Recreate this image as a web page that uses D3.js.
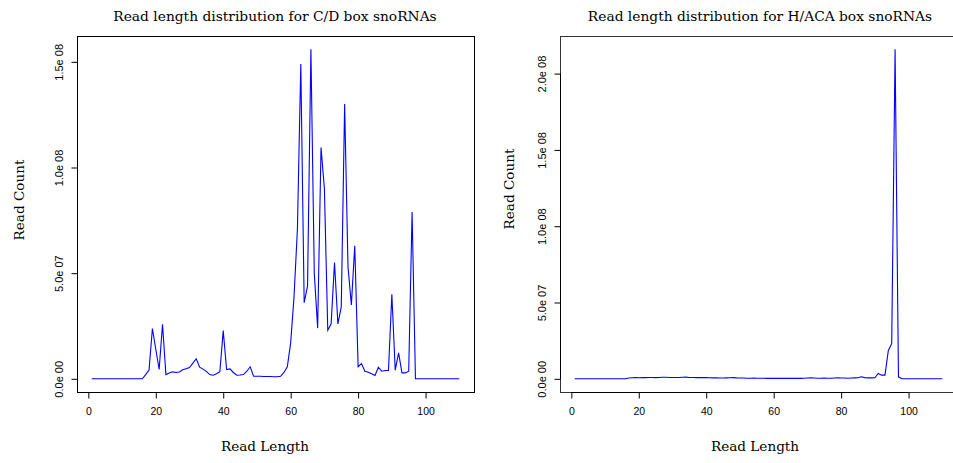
<!DOCTYPE html>
<html>
<head>
<meta charset="utf-8">
<script src="https://cdn.jsdelivr.net/npm/d3@7"></script>
<style>
  body { margin: 0; background: #fff; }
  svg { display: block; }
</style>
</head>
<body>
<div id="chart"></div>
<script>
// read lengths 1..110
const readLengths = d3.range(1, 111);

const cdCounts = [
  0, 0, 0, 0, 0, 0, 0, 0, 0, 0,
  0, 0, 0, 0, 0, 0, 2.0e6, 4.1e6, 2.38e7, 1.4e7,
  4.4e6, 2.58e7, 2.0e6, 2.8e6, 3.3e6, 3.0e6, 3.2e6, 4.3e6, 4.8e6, 5.3e6,
  7.4e6, 9.5e6, 5.5e6, 4.6e6, 3.5e6, 2.0e6, 1.7e6, 2.4e6, 3.4e6, 2.28e7,
  4.4e6, 4.7e6, 3.0e6, 1.7e6, 1.8e6, 2.0e6, 3.6e6, 5.7e6, 1.2e6, 1.2e6,
  1.2e6, 1.1e6, 1.1e6, 1.1e6, 1.0e6, 1.0e6, 1.2e6, 3.0e6, 5.7e6, 1.7e7,
  3.9e7, 7.1e7, 1.49e8, 3.6e7, 4.4e7, 1.56e8, 5.0e7, 2.4e7, 1.095e8, 9.0e7,
  2.3e7, 2.6e7, 5.5e7, 2.6e7, 3.4e7, 1.3e8, 5.3e7, 3.5e7, 6.3e7, 5.7e6,
  7.2e6, 3.6e6, 3.1e6, 2.4e6, 1.6e6, 5.5e6, 3.6e6, 3.9e6, 3.9e6, 4.0e7,
  4.1e6, 1.23e7, 2.8e6, 2.8e6, 3.6e6, 7.9e7, 0, 0, 0, 0,
  0, 0, 0, 0, 0, 0, 0, 0, 0, 0
];

const hacaCounts = [
  0, 0, 0, 0, 0, 0, 0, 0, 0, 0,
  0, 0, 0, 0, 0, 0, 5e5, 7e5, 8e5, 7e5,
  8e5, 8e5, 9e5, 9e5, 8e5, 9e5, 1.0e6, 1.0e6, 9e5, 9e5,
  8.5e5, 9e5, 1.0e6, 1.1e6, 9e5, 9e5, 8e5, 8e5, 9e5, 8e5,
  7e5, 6e5, 6e5, 5e5, 5e5, 6e5, 7e5, 8e5, 6e5, 5e5,
  5e5, 4e5, 4e5, 5e5, 4e5, 4e5, 4e5, 3e5, 3e5, 4e5,
  3e5, 3e5, 3e5, 3e5, 4e5, 3e5, 3e5, 3e5, 4e5, 5e5,
  6e5, 5e5, 4e5, 4e5, 5e5, 4e5, 4e5, 5e5, 6e5, 5e5,
  5e5, 4e5, 5e5, 6e5, 7e5, 1.3e6, 8e5, 6e5, 6e5, 7e5,
  3.5e6, 2.4e6, 2.4e6, 1.86e7, 2.3e7, 2.16e8, 1.3e6, 0, 0, 0,
  0, 0, 0, 0, 0, 0, 0, 0, 0, 0
];

const xTicks = [0, 20, 40, 60, 80, 100];
const cdYTicks = [0, 5e7, 1e8, 1.5e8];
const cdYLabels = ["0.0e 00", "5.0e 07", "1.0e 08", "1.5e 08"];
const hacaYTicks = [0, 5e7, 1e8, 1.5e8, 2e8];
const hacaYLabels = ["0.0e 00", "5.0e 07", "1.0e 08", "1.5e 08", "2.0e 08"];

const titles = ["Read length distribution for C/D box snoRNAs",
                "Read length distribution for H/ACA box snoRNAs"];
const xTitle = "Read Length";
const yTitle = "Read Count";

const W = 953, H = 463;
const svg = d3.select("#chart").append("svg")
  .attr("width", W).attr("height", H);

// R-style 4% range expansion
function rRange(lo, hi) {
  const r = hi - lo;
  return [lo - 0.04 * r, hi + 0.04 * r];
}

const panels = [
  { counts: cdCounts, yTicks: cdYTicks, yLabels: cdYLabels, title: titles[0],
    left: 77, right: 474, titleX: 275, xTitleX: 265, yTitleX: 24, yTitleY: 200, boxColor: "#000" },
  { counts: hacaCounts, yTicks: hacaYTicks, yLabels: hacaYLabels, title: titles[1],
    left: 560, right: 957, titleX: 760, xTitleX: 755, yTitleX: 514, yTitleY: 189, boxColor: "#333" }
];

const plotTop = 36, plotBottom = 392;

panels.forEach(p => {
  const x = d3.scaleLinear()
    .domain(rRange(d3.min(readLengths), d3.max(readLengths)))
    .range([p.left, p.right]);
  const y = d3.scaleLinear()
    .domain(rRange(0, d3.max(p.counts)))
    .range([plotBottom, plotTop]);

  const g = svg.append("g");

  // data line
  g.append("path")
    .datum(readLengths.map((d, i) => [d, p.counts[i]]))
    .attr("fill", "none")
    .attr("stroke", "#0000ff")
    .attr("stroke-width", 1.1)
    .attr("d", d3.line().x(d => x(d[0])).y(d => y(d[1])));

  // box
  g.append("rect")
    .attr("x", p.left + 0.5).attr("y", plotTop + 0.5)
    .attr("width", p.right - p.left).attr("height", plotBottom - plotTop)
    .attr("fill", "none").attr("stroke", p.boxColor).attr("stroke-width", 1);

  // x axis
  const xa = g.append("g")
    .attr("transform", `translate(0,${plotBottom + 0.5})`)
    .call(d3.axisBottom(x).tickValues(xTicks).tickSize(6).tickSizeOuter(0).tickPadding(9));
  xa.select(".domain").attr("d", `M${x(0)},0H${x(100)}`);
  xa.selectAll("text")
    .attr("font-family", "Liberation Sans, Arial, sans-serif")
    .attr("font-size", 10.5).attr("fill", "#000");

  // y axis
  const ya = g.append("g")
    .attr("transform", `translate(${p.left + 0.5},0)`)
    .call(d3.axisLeft(y).tickValues(p.yTicks).tickSize(6).tickSizeOuter(0)
      .tickFormat((d, i) => p.yLabels[i]));
  ya.select(".domain").attr("d", `M0,${y(p.yTicks[0])}V${y(p.yTicks[p.yTicks.length - 1])}`);
  ya.selectAll("text")
    .attr("font-family", "Liberation Sans, Arial, sans-serif")
    .attr("font-size", 11).attr("fill", "#000")
    .attr("x", null).attr("dy", null)
    .attr("text-anchor", "middle")
    .attr("transform", "translate(-15,0) rotate(-90)");

  // titles
  svg.append("text")
    .attr("x", p.titleX).attr("y", 21)
    .attr("text-anchor", "middle")
    .attr("font-family", "DejaVu Serif, serif").attr("font-size", 13.8)
    .text(p.title);

  svg.append("text")
    .attr("x", p.xTitleX).attr("y", 451)
    .attr("text-anchor", "middle")
    .attr("font-family", "DejaVu Serif, serif").attr("font-size", 13.6)
    .text(xTitle);

  svg.append("text")
    .attr("transform", `translate(${p.yTitleX},${p.yTitleY}) rotate(-90)`)
    .attr("text-anchor", "middle")
    .attr("font-family", "DejaVu Serif, serif").attr("font-size", 13.6)
    .text(yTitle);
});
</script>
</body>
</html>
